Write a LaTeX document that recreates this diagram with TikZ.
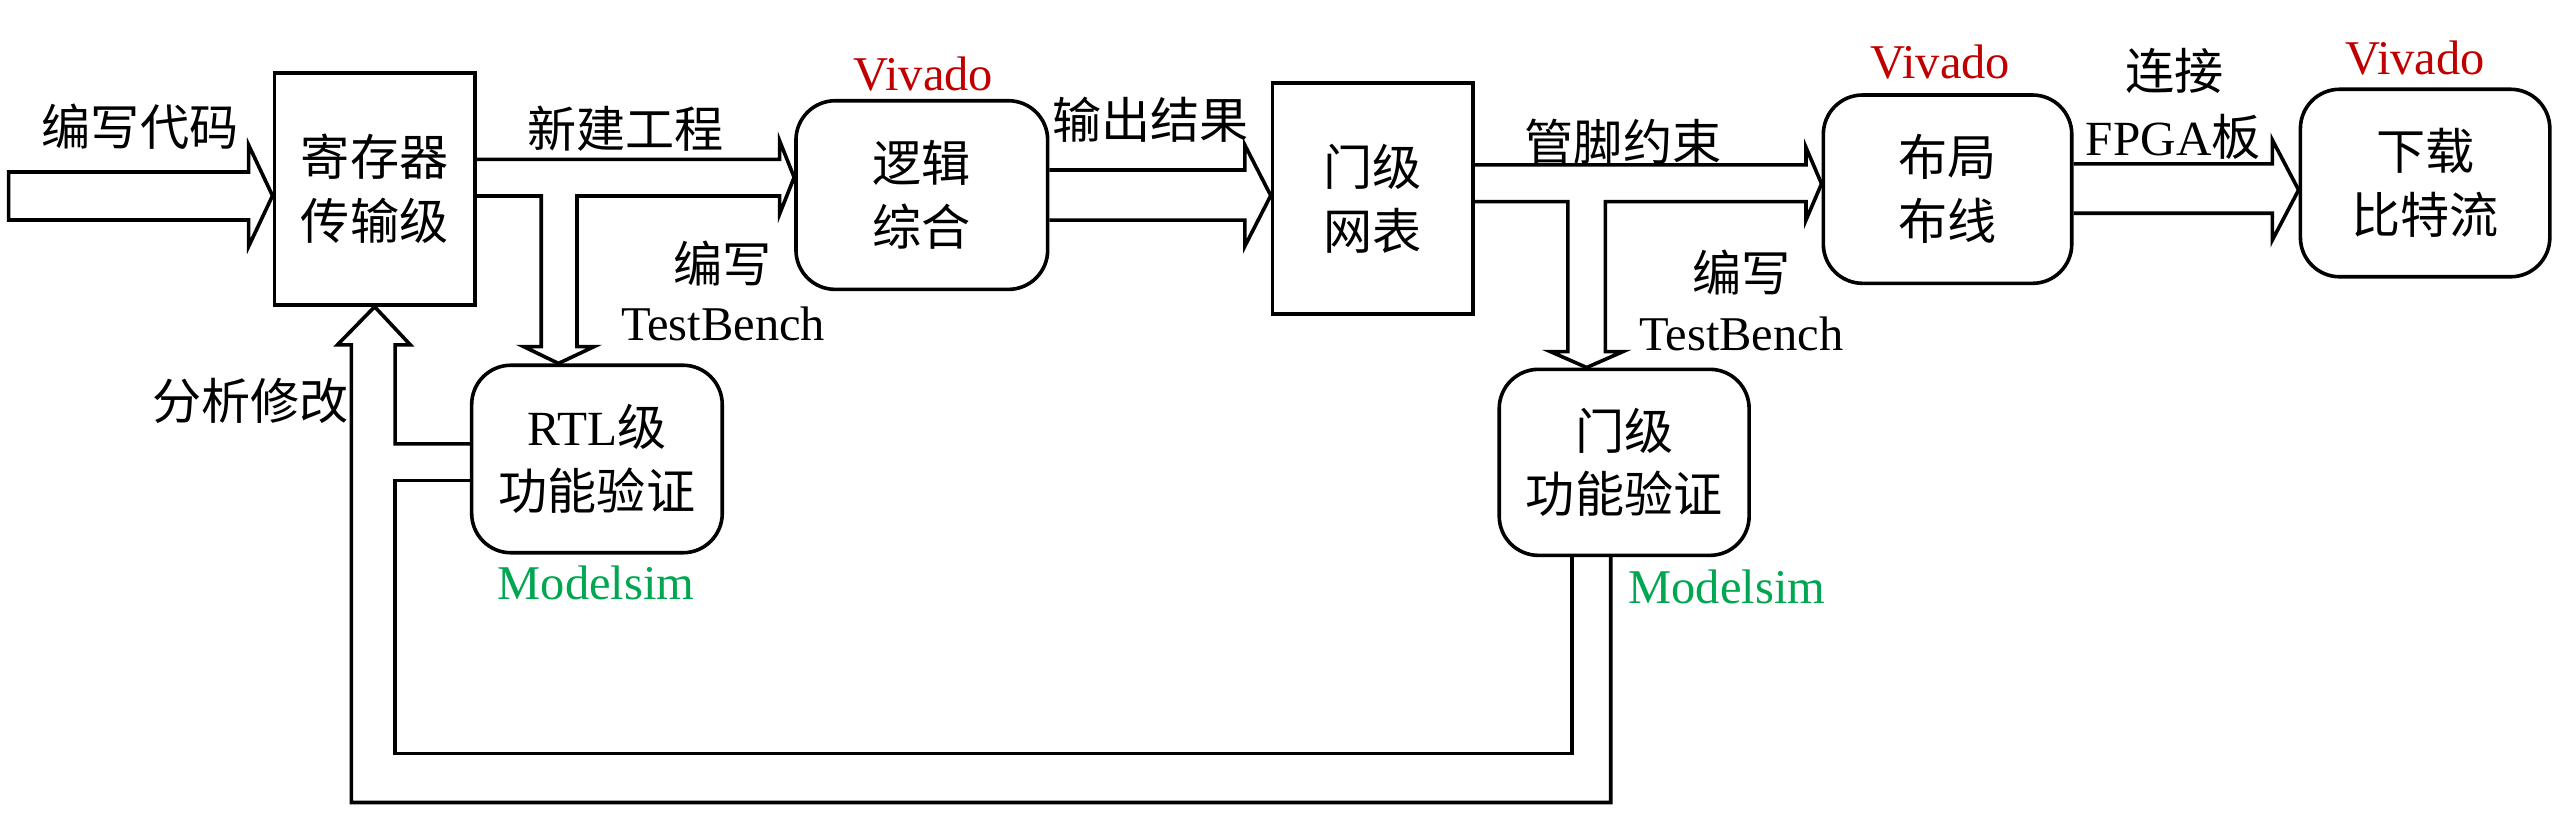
\documentclass[tikz,border=0pt]{standalone}
\usepackage{fontspec}
\setmainfont{Liberation Serif}
\newfontfamily\cjk{Noto Sans CJK SC}
\definecolor{vivred}{RGB}{192,0,0}
\definecolor{msgreen}{RGB}{0,166,80}
\begin{document}
\begin{tikzpicture}[x=0.5pt,y=-0.5pt,
  sqbox/.style={draw, line width=1.1pt, inner sep=0pt, align=center,
    font=\fontsize{15}{19.5}\selectfont\cjk},
  rbox/.style={sqbox, rounded corners=12pt},
  lbl/.style={inner sep=0pt, font=\fontsize{15}{19}\selectfont\cjk},
  en/.style={inner sep=0pt, font=\fontsize{14.8}{18}\selectfont},
  barrow/.style={draw, line width=1.1pt, line join=miter}]
\useasboundingbox (0,0) rectangle (1568,498.8);

% boxes
\node[sqbox, minimum width=61.25pt, minimum height=70.9pt] (reg) at (228.75,115.3) {寄存器\\传输级};
\node[rbox, minimum width=76.85pt, minimum height=57.6pt] (syn) at (562.85,119.1) {逻辑\\综合};
\node[sqbox, minimum width=61.15pt, minimum height=70.7pt] (net) at (838.15,121.2) {门级\\网表};
\node[rbox, minimum width=75.85pt, minimum height=57.5pt] (pr) at (1189.15,115.5) {布局\\布线};
\node[rbox, minimum width=76.15pt, minimum height=57.25pt] (dl) at (1480.75,111.75) {下载\\比特流};
\node[rbox, minimum width=76.5pt, minimum height=57.25pt] (rtl) at (364.5,280.25) {{\rmfamily RTL}级\\功能验证};
\node[rbox, minimum width=76.3pt, minimum height=56.8pt] (gv) at (991.7,282.3) {门级\\功能验证};

% labels
\node[lbl] (l1) at (85.5,77.5) {编写代码};
\node[lbl] (l2) at (382,78.5) {新建工程};
\node[lbl] (l3) at (441,161) {编写};
\node[en] (l4) at (441.5,198) {TestBench};
\node[en, text=vivred] (v1) at (563.7,45.3) {Vivado};
\node[lbl] (l5) at (702.4,73) {输出结果};
\node[lbl] (l6) at (991,86.5) {管脚约束};
\node[lbl] (l7) at (1063.5,166.3) {编写};
\node[en] (l8) at (1063.3,204) {TestBench};
\node[en, text=vivred] (v2) at (1184.6,37.7) {Vivado};
\node[lbl] (l9) at (1327.6,43.2) {连接};
\node[lbl] (l10) at (1327,83.4) {{\rmfamily FPGA}板};
\node[en, text=vivred] (v3) at (1474.5,35.6) {Vivado};
\node[en, text=msgreen] (m1) at (364,356) {Modelsim};
\node[en, text=msgreen] (m2) at (1054.4,358.3) {Modelsim};
\node[lbl] (l11) at (153,245) {分析修改};

% input block arrow
\coordinate (start) at (5.3,105);
\draw[barrow] (start) -- (151.8,105) -- (151.8,88.5) -- (reg.west |- 0,119.5)
  -- (151.8,150.5) -- (151.8,134.3) -- (5.3,134.3) -- cycle;

% reg -> syn with branch down to rtl
\draw[barrow] (reg.east |- 0,97.3) -- (476,97.3) -- (476,85.9) -- (syn.west |- 0,108.3)
  -- (476,130.7) -- (476,119.7) -- (352.3,119.7) -- (352.3,211.6) -- (362.8,211.6)
  -- (341,0 |- rtl.north) -- (319.7,211.6) -- (330.5,211.6) -- (330.5,119.7)
  -- (reg.east |- 0,119.7);

% syn -> net
\draw[barrow] (syn.east |- 0,103.8) -- (760.1,103.8) -- (760.1,88.6) -- (net.west |- 0,119.4)
  -- (760.1,150.3) -- (760.1,134.4) -- (syn.east |- 0,134.4);

% net -> pr with branch down to gv
\draw[barrow] (net.east |- 0,100.7) -- (1102.7,100.7) -- (1102.7,90) -- (pr.west |- 0,112.2)
  -- (1102.7,134.4) -- (1102.7,123.1) -- (980.2,123.1) -- (980.2,214.7) -- (990.9,214.7)
  -- (968.8,0 |- gv.north) -- (946.7,214.7) -- (957.3,214.7) -- (957.3,123.1)
  -- (net.east |- 0,123.1);

% pr -> dl
\draw[barrow] (pr.east |- 0,100.1) -- (1387.5,100.1) -- (1387.5,85.5) -- (dl.west |- 0,116)
  -- (1387.5,146.5) -- (1387.5,130.2) -- (pr.east |- 0,130.2);

% feedback block arrow
\draw[barrow] (983.5,0 |- gv.south) -- (983.5,490) -- (214.5,490) -- (214.5,210.6)
  -- (206,210.6) -- (reg.south) -- (250.6,210.6) -- (241.3,210.6) -- (241.3,271)
  -- (rtl.west |- 0,271);
\draw[barrow] (rtl.west |- 0,293.3) -- (241.3,293.3) -- (241.3,460) -- (960,460)
  -- (960,0 |- gv.south);
\end{tikzpicture}
\end{document}
